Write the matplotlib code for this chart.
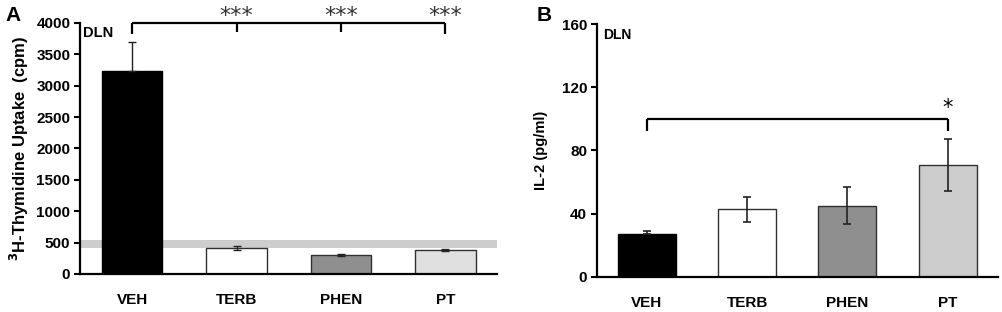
import matplotlib
matplotlib.use("Agg")
import matplotlib.pyplot as plt

plt.rcParams['font.family'] = ['Liberation Sans', 'DejaVu Sans']
plt.rcParams['font.weight'] = 'bold'

categories = ["VEH", "TERB", "PHEN", "PT"]

# Panel A: 3H-thymidine uptake (cpm)
thy_values = [3230, 410, 300, 380]
thy_err_low = [0, 30, 15, 15]
thy_err_high = [470, 30, 15, 15]
thy_band = (415, 540)
thy_yticks = [0, 500, 1000, 1500, 2000, 2500, 3000, 3500, 4000]

# Panel B: IL-2 (pg/ml)
il2_values = [27, 43, 45, 71]
il2_err_low = [0, 8.5, 11.5, 16.5]
il2_err_high = [2.2, 7.5, 11.5, 16]
il2_yticks = [0, 40, 80, 120, 160]

colors_A = ["#000000", "#ffffff", "#8f8f8f", "#e0e0e0"]
colors_B = ["#000000", "#ffffff", "#8f8f8f", "#cccccc"]
edge = "#303030"

fig = plt.figure(figsize=(10.03, 3.12), dpi=100)
axA = fig.add_axes([0.0798, 0.1218, 0.4162, 0.8045])
axB = fig.add_axes([0.595, 0.1131, 0.3997, 0.8099])

def style(ax, ymax, yticks):
    ax.set_xlim(-0.5, 3.5)
    ax.set_ylim(0, ymax)
    ax.set_yticks(yticks)
    ax.set_xticks(range(len(categories)))
    ax.set_xticklabels(categories, fontsize=11, fontweight='bold')
    ax.tick_params(axis='x', length=0, pad=14)
    ax.tick_params(axis='y', length=4, width=1.5, labelsize=11, pad=3, direction='out')
    for lab in ax.get_yticklabels():
        lab.set_fontweight('bold')
    for s in ['top', 'right']:
        ax.spines[s].set_visible(False)
    for s in ['left', 'bottom']:
        ax.spines[s].set_linewidth(1.6)
        ax.spines[s].set_color('black')

x = list(range(len(categories)))

# Panel A
axA.axhspan(thy_band[0], thy_band[1], color="#cdcdcd", zorder=0, lw=0)
axA.bar(x, thy_values, width=0.58, color=colors_A, edgecolor=["#000000", edge, edge, edge], linewidth=1.0, zorder=2)
axA.errorbar(x, thy_values, yerr=[thy_err_low, thy_err_high], fmt='none', ecolor='#222222', elinewidth=1.0, capsize=3, capthick=1.0, zorder=3)
style(axA, 4000, thy_yticks)
axA.set_ylabel("$\\mathbf{^{3}}$H-Thymidine Uptake  (cpm)", fontsize=12, fontweight='bold', labelpad=4)
axA.text(0.008, 0.99, "DLN", transform=axA.transAxes, fontsize=10.5, fontweight='bold', va='top', ha='left')
# bracket A
by = 4000
axA.plot([x[0], x[3]], [by, by], color='black', lw=1.6, clip_on=False, zorder=4, solid_capstyle='butt')
for xi, drop in zip(x, [180, 150, 140, 170]):
    axA.plot([xi, xi], [by, by - drop], color='black', lw=1.6, clip_on=False, zorder=4, solid_capstyle='butt')
for xi in x[1:]:
    axA.text(xi, by + 115, "***", ha='center', va='center', fontsize=16, fontweight='normal',
             family='DejaVu Sans', color='#333333', clip_on=False)
fig.text(0.005, 0.95, "A", fontsize=15, fontweight='bold', va='center', ha='left')

# Panel B
axB.bar(x, il2_values, width=0.58, color=colors_B, edgecolor=["#000000", edge, edge, edge], linewidth=1.0, zorder=2)
axB.errorbar(x, il2_values, yerr=[il2_err_low, il2_err_high], fmt='none', ecolor='#222222', elinewidth=1.2, capsize=3, capthick=1.2, zorder=3)
style(axB, 160, il2_yticks)
axB.set_ylabel("IL-2 (pg/ml)", fontsize=10.5, fontweight='bold', labelpad=10)
axB.text(0.015, 0.985, "DLN", transform=axB.transAxes, fontsize=10, fontweight='bold', va='top', ha='left')
byB = 100
axB.plot([x[0], x[3]], [byB, byB], color='black', lw=1.6, zorder=4, solid_capstyle='butt')
for xi in [x[0], x[3]]:
    axB.plot([xi, xi], [byB, byB - 8], color='black', lw=1.6, zorder=4, solid_capstyle='butt')
axB.text(x[3], byB + 0.5, "*", ha='center', va='bottom', fontsize=15, fontweight='normal', family='DejaVu Sans')
fig.text(0.535, 0.95, "B", fontsize=15, fontweight='bold', va='center', ha='left')

fig.savefig("out.png", dpi=100)
